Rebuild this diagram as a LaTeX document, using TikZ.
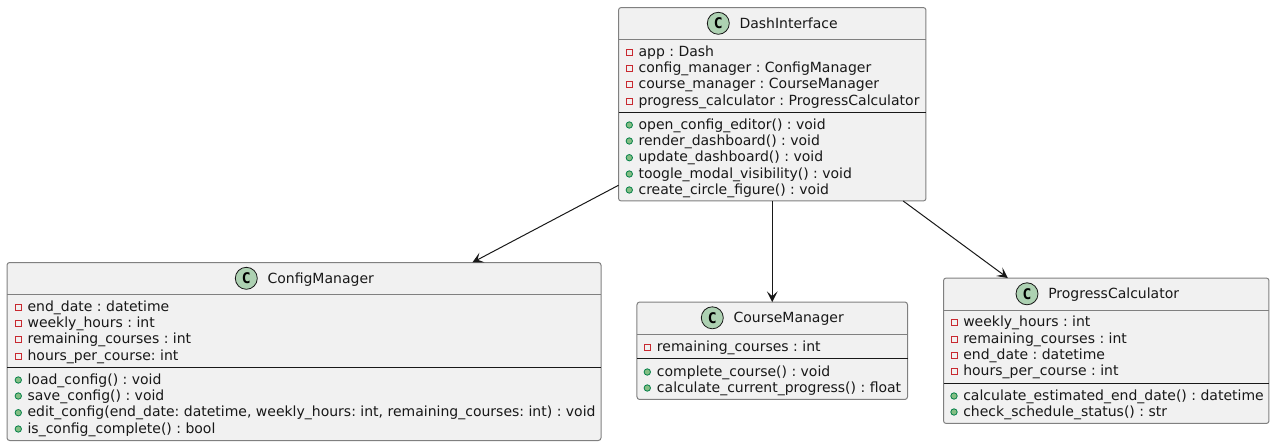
\documentclass[tikz,border=0pt]{standalone}
\usepackage{fontspec}
\setmainfont{DejaVu Sans}
\setmonofont{DejaVu Sans Mono}
\frenchspacing
\usetikzlibrary{arrows.meta}
\definecolor{boxfill}{RGB}{241,241,241}
\definecolor{boxline}{RGB}{128,128,128}
\definecolor{inkline}{RGB}{24,24,24}
\definecolor{circlegreen}{RGB}{173,209,178}
\definecolor{privred}{RGB}{200,41,48}
\definecolor{pubgreen}{RGB}{3,128,72}
\definecolor{pubfill}{RGB}{132,190,132}
\tikzset{
  classbox/.style={
    draw=boxline,fill=boxfill,rounded corners=2pt,line width=.75pt,
    inner sep=0pt,outer sep=0pt
  },
  headrule/.style={draw=boxline,line width=.75pt},
  memberrule/.style={draw=inkline,line width=.75pt},
  classmark/.style={
    circle,draw=inkline,fill=circlegreen,line width=.6pt,minimum size=16.5pt,
    inner sep=0pt,font=\fontsize{11}{12}\selectfont\ttfamily\bfseries
  },
  classtitle/.style={anchor=base west,inner sep=0pt,text=inkline,font=\fontsize{10.5}{12}\selectfont},
  rowtext/.style={anchor=base west,inner sep=0pt,text=inkline,font=\fontsize{10.5}{12}\selectfont},
  privmark/.style={rectangle,draw=privred,line width=.6pt,minimum size=4.5pt,inner sep=0pt},
  pubmark/.style={circle,draw=pubgreen,fill=pubfill,line width=.6pt,minimum size=4.8pt,inner sep=0pt},
  umlarrow/.style={-{Stealth[length=8pt,width=8pt,inset=3.6pt]},draw=inkline,line width=.75pt}
}
\begin{document}
\begin{tikzpicture}[x=.75pt,y=-.75pt]
  \useasboundingbox (0,0) rectangle (1275,446);
  % class boxes
  \node[classbox,minimum width=230.6pt,minimum height=145.1pt] (dash) at (772.25,104.25) {};
  \node[classbox,minimum width=445.5pt,minimum height=133.5pt] (config) at (304,351.5) {};
  \node[classbox,minimum width=202.9pt,minimum height=73.1pt] (course) at (772.25,350.75) {};
  \node[classbox,minimum width=244.1pt,minimum height=109.1pt] (progress) at (1106.25,350.75) {};
  \draw[umlarrow] (dash) -- (config);
  \draw[umlarrow] (dash) -- (course);
  \draw[umlarrow] (dash) -- (progress);
  % headers
  \draw[headrule] (dash.west |- 0,39.5) -- (dash.east |- 0,39.5);
  \draw[headrule] (config.west |- 0,294.5) -- (config.east |- 0,294.5);
  \draw[headrule] (course.west |- 0,334) -- (course.east |- 0,334);
  \draw[headrule] (progress.west |- 0,310) -- (progress.east |- 0,310);
  \draw[memberrule] (dash.west |- 0,112.5) -- (dash.east |- 0,112.5);
  \draw[memberrule] (config.west |- 0,367.5) -- (config.east |- 0,367.5);
  \draw[memberrule] (course.west |- 0,358) -- (course.east |- 0,358);
  \draw[memberrule] (progress.west |- 0,383) -- (progress.east |- 0,383);
  \node[classmark] (dashmark) at (718.3,23.3) {C};
  \node[classtitle] (dashtitle) at (739.3,28.3) {DashInterface};
  \node[classmark] (configmark) at (246.3,278.3) {C};
  \node[classtitle] (configtitle) at (267.3,283.3) {ConfigManager};
  \node[classmark] (coursemark) at (712.3,317.8) {C};
  \node[classtitle] (coursetitle) at (733.3,322.8) {CourseManager};
  \node[classmark] (progressmark) at (1027,293.8) {C};
  \node[classtitle] (progresstitle) at (1048,298.8) {ProgressCalculator};
  % members
  \foreach \rowy/\rowlabel [count=\i] in {56/{app : Dash},72/{config\_manager : ConfigManager},
    88.7/{course\_manager : CourseManager},105/{progress\_calculator : ProgressCalculator}} {
    \node[privmark] (dashattr\i) at (629.3,\rowy-4) {};
    \node[rowtext] (dashattrtext\i) at (638.3,\rowy) {\rowlabel};
  }
  \foreach \rowy/\rowlabel [count=\i] in {129/{open\_config\_editor() : void},145/{render\_dashboard() : void},
    161.7/{update\_dashboard() : void},178/{toogle\_modal\_visibility() : void},194/{create\_circle\_figure() : void}} {
    \node[pubmark] (dashop\i) at (629.3,\rowy-4) {};
    \node[rowtext] (dashoptext\i) at (638.3,\rowy) {\rowlabel};
  }
  \foreach \rowy/\rowlabel [count=\i] in {311/{end\_date : datetime},327/{weekly\_hours : int},
    343.7/{remaining\_courses : int},360/{hours\_per\_course: int}} {
    \node[privmark] (configattr\i) at (18.3,\rowy-4) {};
    \node[rowtext] (configattrtext\i) at (27.3,\rowy) {\rowlabel};
  }
  \foreach \rowy/\rowlabel [count=\i] in {384/{load\_config() : void},400/{save\_config() : void},
    416.7/{edit\_config(end\_date: datetime, weekly\_hours: int, remaining\_courses: int) : void},
    433/{is\_config\_complete() : bool}} {
    \node[pubmark] (configop\i) at (18.3,\rowy-4) {};
    \node[rowtext] (configoptext\i) at (27.3,\rowy) {\rowlabel};
  }
  \foreach \rowy/\rowlabel [count=\i] in {351/{remaining\_courses : int}} {
    \node[privmark] (courseattr\i) at (647.3,\rowy-4) {};
    \node[rowtext] (courseattrtext\i) at (656.7,\rowy) {\rowlabel};
  }
  \foreach \rowy/\rowlabel [count=\i] in {376/{complete\_course() : void},392/{calculate\_current\_progress() : float}} {
    \node[pubmark] (courseop\i) at (647.3,\rowy-4) {};
    \node[rowtext] (courseoptext\i) at (656.7,\rowy) {\rowlabel};
  }
  \foreach \rowy/\rowlabel [count=\i] in {326.5/{weekly\_hours : int},343/{remaining\_courses : int},
    359/{end\_date : datetime},375.5/{hours\_per\_course : int}} {
    \node[privmark] (progressattr\i) at (954,\rowy-4) {};
    \node[rowtext] (progressattrtext\i) at (963,\rowy) {\rowlabel};
  }
  \foreach \rowy/\rowlabel [count=\i] in {400/{calculate\_estimated\_end\_date() : datetime},416/{check\_schedule\_status() : str}} {
    \node[pubmark] (progressop\i) at (954,\rowy-4) {};
    \node[rowtext] (progressoptext\i) at (963,\rowy) {\rowlabel};
  }
\end{tikzpicture}
\end{document}
